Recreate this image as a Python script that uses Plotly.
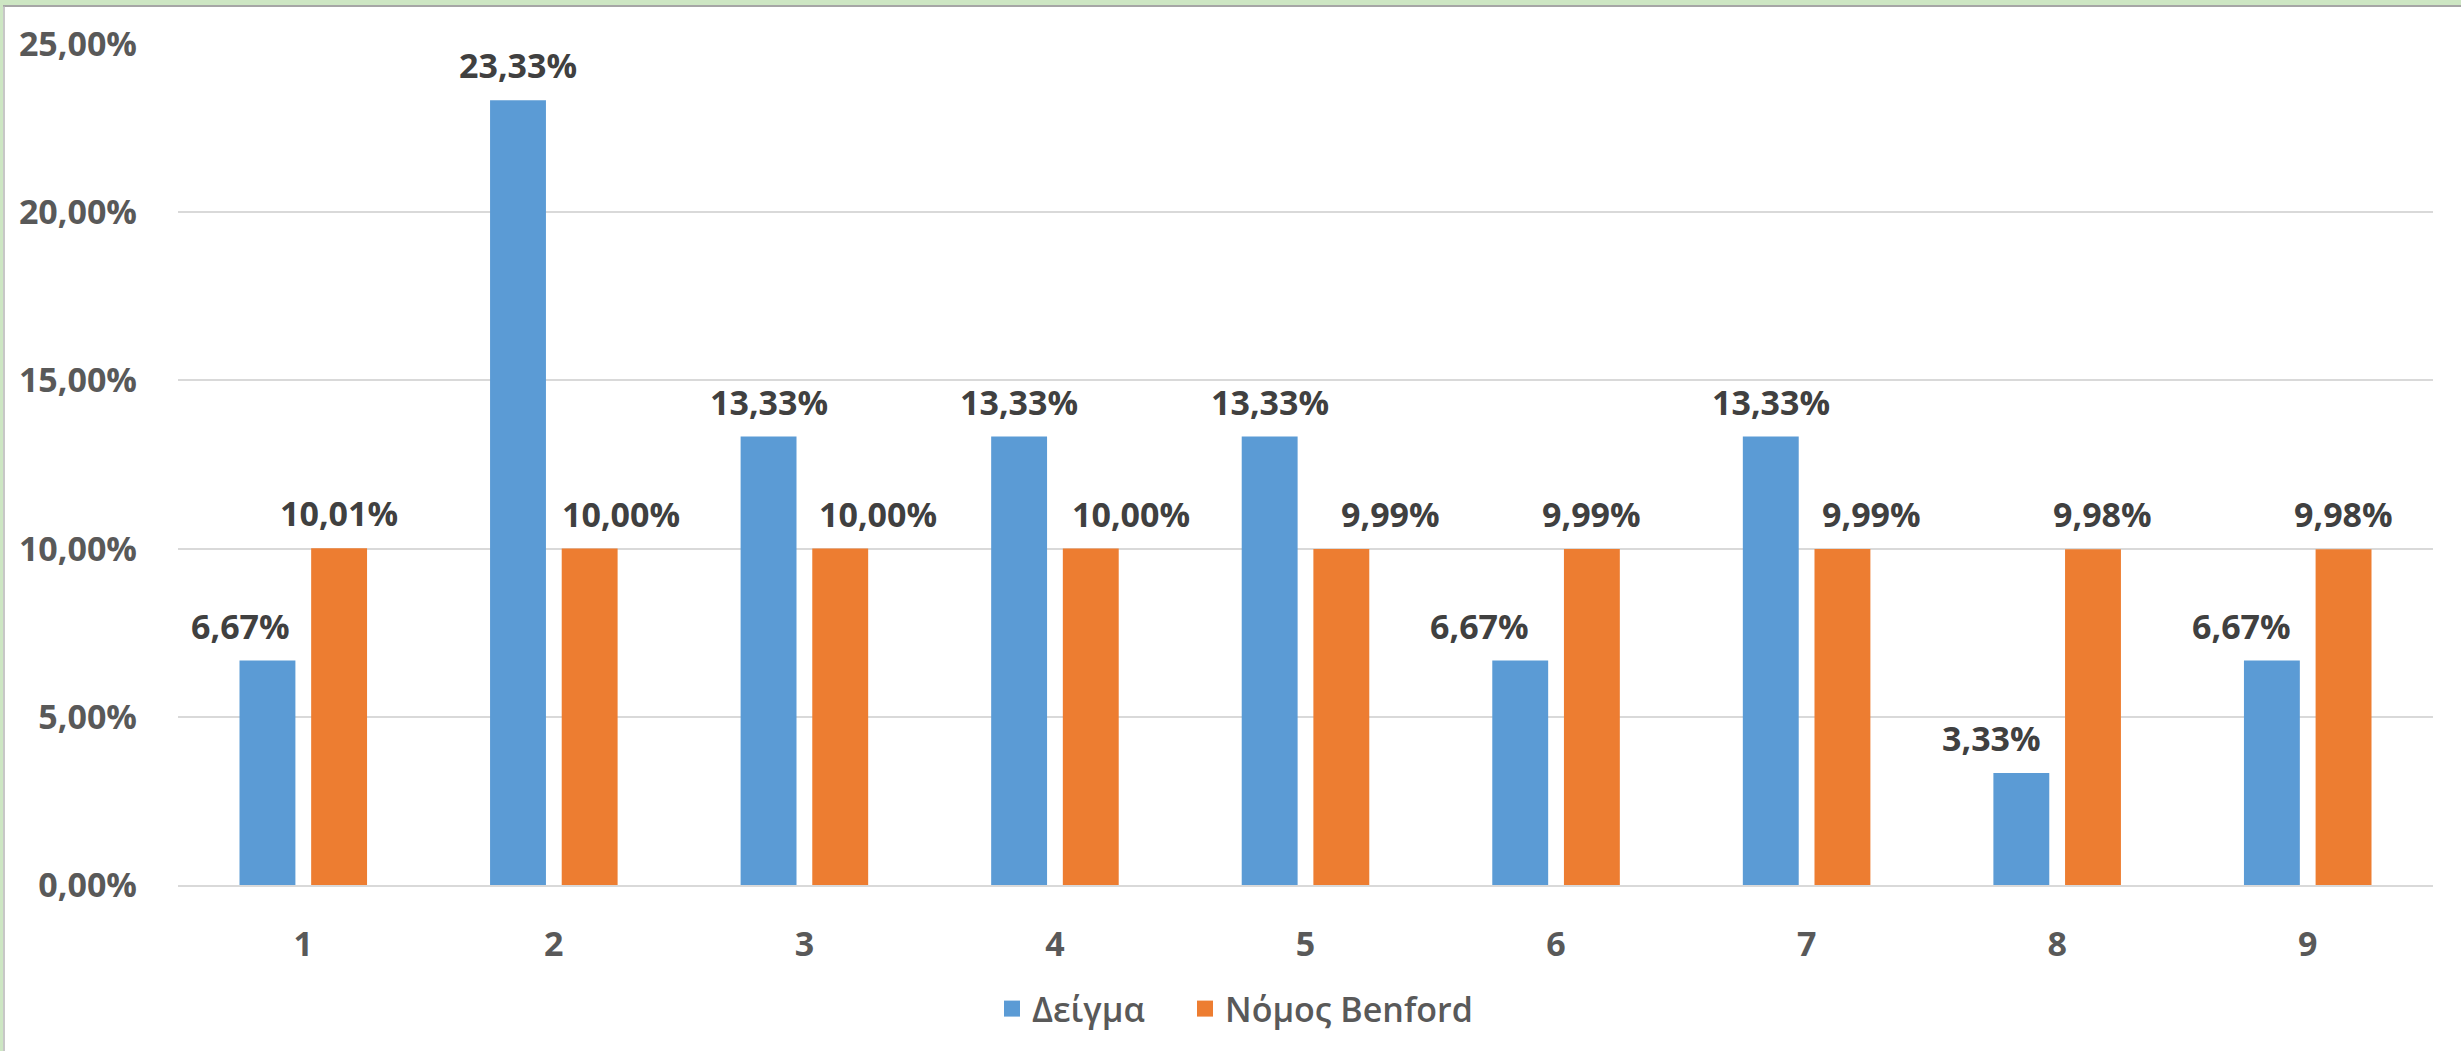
import plotly.graph_objects as go

# Leading-digit distribution: sample vs Benford's law
digits = ["1", "2", "3", "4", "5", "6", "7", "8", "9"]
sample_pct = [6.67, 23.33, 13.33, 13.33, 13.33, 6.67, 13.33, 3.33, 6.67]
benford_pct = [10.01, 10.00, 10.00, 10.00, 9.99, 9.99, 9.99, 9.98, 9.98]
series_names = ["Δείγμα", "Νόμος Benford"]
y_ticks = [0.0, 0.05, 0.10, 0.15, 0.20, 0.25]

# Styling
W, H = 2461, 1051
M_L, M_R, M_T, M_B = 178, 28, 44, 166
BLUE, ORANGE = "#5b9bd5", "#ed7d31"
AXIS_TXT, LABEL_TXT, GRID = "#595959", "#404040", "#d9d9d9"
FONT = "Open Sans"
BARGAP, GROUPGAP = 0.428, 0.22
# horizontal nudges (px) applied to data labels that were dragged aside
sample_nudge = [-27, 0, 0, 0, 0, -41, 0, -30, -30]
benford_nudge = [0, 31, 38, 40, 49, 0, 29, 10, 0]
# left edge (px) of each legend entry
legend_left = [992, 1185]

plot_w = W - M_L - M_R
plot_h = H - M_T - M_B
cat_px = plot_w / len(digits)
bar_offset = cat_px * (1 - BARGAP) / 4  # half a bar slot

def fmt(v):
    return f"{v:.2f}".replace(".", ",") + "%"

def px_x(p):
    return (p - M_L) / plot_w

def px_y(p):
    return (H - M_B - p) / plot_h

sample = [v / 100 for v in sample_pct]
benford = [v / 100 for v in benford_pct]

fig = go.Figure()
fig.add_trace(go.Bar(x=digits, y=sample, name=series_names[0], showlegend=False,
                     marker=dict(color=BLUE, line=dict(width=0))))
fig.add_trace(go.Bar(x=digits, y=benford, name=series_names[1], showlegend=False,
                     marker=dict(color=ORANGE, line=dict(width=0))))
# legend entries with larger square swatches, one legend box each
legend_ids = ["legend", "legend2"]
for name, col, lid in zip(series_names, [BLUE, ORANGE], legend_ids):
    fig.add_trace(go.Scatter(x=[None], y=[None], mode="markers", name=name, legend=lid,
                             marker=dict(symbol="square", size=18, color=col)))

label_font = dict(family=FONT, size=34, color=LABEL_TXT, weight="bold")
annotations = []
for i, d in enumerate(digits):
    annotations.append(dict(x=i, y=sample[i], xref="x", yref="y", text=fmt(sample_pct[i]),
                            showarrow=False, yanchor="bottom", xanchor="center",
                            xshift=-bar_offset + sample_nudge[i], yshift=10, font=label_font))
    annotations.append(dict(x=i, y=benford[i], xref="x", yref="y", text=fmt(benford_pct[i]),
                            showarrow=False, yanchor="bottom", xanchor="center",
                            xshift=bar_offset + benford_nudge[i], yshift=10, font=label_font))

shapes = [
    # green window frame along top and left edges
    dict(type="rect", xref="paper", yref="paper", x0=px_x(0), x1=px_x(W), y0=px_y(5), y1=px_y(0),
         fillcolor="#cde6c3", line=dict(width=0), layer="above"),
    dict(type="rect", xref="paper", yref="paper", x0=px_x(0), x1=px_x(3), y0=px_y(H), y1=px_y(0),
         fillcolor="#cde6c3", line=dict(width=0), layer="above"),
    dict(type="line", xref="paper", yref="paper", x0=px_x(3), x1=px_x(W), y0=px_y(6), y1=px_y(6),
         line=dict(color="#a6a6a6", width=2), layer="above"),
    dict(type="line", xref="paper", yref="paper", x0=px_x(4), x1=px_x(4), y0=px_y(H), y1=px_y(6),
         line=dict(color="#b5b5b5", width=1.5), layer="above"),
]

legend_style = dict(orientation="h", xanchor="left", y=px_y(1009), yanchor="middle",
                    font=dict(family=FONT, size=34, color=AXIS_TXT, weight=600), itemwidth=30,
                    bgcolor="rgba(0,0,0,0)")

fig.update_layout(
    width=W, height=H,
    margin=dict(l=M_L, r=M_R, t=M_T, b=M_B),
    paper_bgcolor="white", plot_bgcolor="white",
    separators=",.",
    barmode="group", bargap=BARGAP, bargroupgap=GROUPGAP,
    font=dict(family=FONT, color=AXIS_TXT),
    showlegend=True,
    legend=dict(x=px_x(legend_left[0]), **legend_style),
    legend2=dict(x=px_x(legend_left[1]), **legend_style),
    annotations=annotations,
    shapes=shapes,
)
fig.update_xaxes(type="category", categoryorder="array", categoryarray=digits,
                 range=[-0.5, len(digits) - 0.5],
                 showgrid=False, showline=True, linecolor=GRID, linewidth=2,
                 ticks="", ticklabelstandoff=28,
                 tickfont=dict(family=FONT, size=34, color=AXIS_TXT, weight="bold"))
fig.update_yaxes(range=[0, 0.25], tickvals=y_ticks, tickformat=".2%",
                 showgrid=True, gridcolor=GRID, gridwidth=2, zeroline=False, showline=False,
                 ticks="", ticklabelstandoff=40,
                 tickfont=dict(family=FONT, size=34, color=AXIS_TXT, weight="bold"))

fig.write_html("out.html")
